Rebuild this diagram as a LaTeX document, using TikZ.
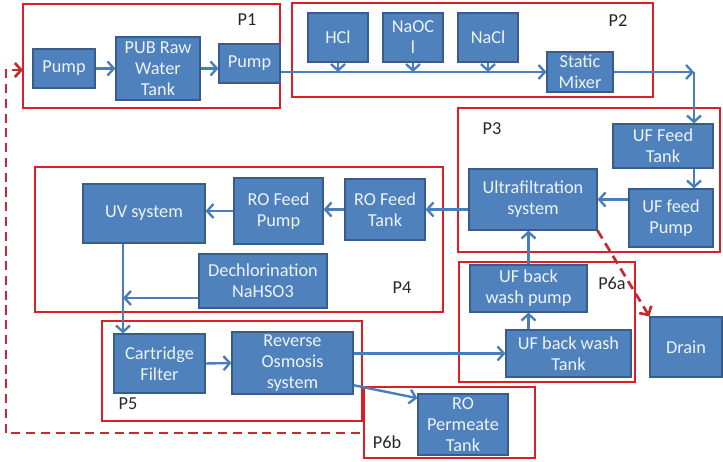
\documentclass[tikz,border=0pt]{standalone}
\usepackage{fontspec}
\setmainfont{Carlito}
\usetikzlibrary{positioning,arrows.meta,calc}
\definecolor{boxblue}{RGB}{79,129,189}
\definecolor{boxedge}{RGB}{56,93,138}
\definecolor{flowblue}{RGB}{74,126,187}
\definecolor{framered}{RGB}{222,30,38}
\definecolor{backred}{RGB}{200,40,50}

\begin{document}
\begin{tikzpicture}[
    x=0.25mm, y=-0.25mm,
    font=\fontsize{13}{15}\selectfont,
    unit/.style={
      draw=boxedge, fill=boxblue, line width=0.8pt,
      text=white!90!boxblue, align=center, inner sep=1pt
    },
    sz/.style 2 args={minimum width=#1*0.25mm, minimum height=#2*0.25mm},
    frame/.style={draw=framered, line width=2.1pt},
    plabel/.style={text=black!85},
    flow/.style={-{Straight Barb[length=4.5pt,width=10pt]}, draw=flowblue, line width=1.7pt},
    backflow/.style={-{Straight Barb[length=4.5pt,width=10pt]}, draw=backred,
      line width=1.9pt, dash pattern=on 6.5pt off 4pt},
  ]
    \useasboundingbox (0,0) rectangle (723,462);

    %── process frames ──────────────────────────────────────────────────
    \draw[frame] (23,4)    rectangle (280,108);
    \draw[frame] (292,3)   rectangle (653,97);
    \draw[frame] (458,108) rectangle (720,252);
    \draw[frame] (35,167)  rectangle (443,312);
    \draw[frame] (102,321) rectangle (362,421);
    \draw[frame] (459,262) rectangle (635,382);
    \draw[frame] (364,387) rectangle (535,458);

    \node[plabel] (lp1)  at (247,20)  {P1};
    \node[plabel] (lp2)  at (618,21)  {P2};
    \node[plabel] (lp3)  at (492,129) {P3};
    \node[plabel] (lp4)  at (402,288) {P4};
    \node[plabel] (lp5)  at (128,404) {P5};
    \node[plabel] (lp6a) at (612,283) {P6a};
    \node[plabel] (lp6b) at (387,442) {P6b};

    %── P1: intake ──────────────────────────────────────────────────────
    \node[unit, sz={62}{39}] (pump1)   at (64,68.5)    {Pump};
    \node[unit, sz={84}{63}] (rawtank) at (158,68.5)   {PUB Raw\\Water\\Tank};
    \node[unit, sz={61}{39}] (pump2)   at (249.5,63.5) {Pump};

    %── P2: dosing ──────────────────────────────────────────────────────
    \node[unit, sz={60}{49}] (hcl)   at (338,37.5) {HCl};
    \node[unit, sz={60}{49}] (naocl) at (413,37.5) {NaOC\\l};
    \node[unit, sz={60}{49}] (nacl)  at (488,37.5) {NaCl};
    \node[unit, sz={66}{40}] (mixer) at (580,72)   {Static\\Mixer};
    \coordinate (turn) at (694,72);

    %── P3: ultrafiltration ─────────────────────────────────────────────
    \node[unit, sz={100}{44}] (ufft)  at (663,146)   {UF Feed\\Tank};
    \node[unit, sz={84}{58}]  (uffp)  at (671,218)   {UF feed\\Pump};
    \node[unit, sz={128}{61}] (ufsys) at (533,199.5) {Ultrafiltration\\system};

    %── P4: RO feed ─────────────────────────────────────────────────────
    \node[unit, sz={80}{61}]  (rotank)  at (385,209.5) {RO Feed\\Tank};
    \node[unit, sz={89}{66}]  (ropump)  at (278.5,211) {RO Feed\\Pump};
    \node[unit, sz={122}{59}] (uvsys)   at (144,213.5) {UV system};
    \node[unit, sz={128}{54}] (dechlor) at (263,281)   {Dechlorination\\NaHSO3};
    \coordinate (uvx)  at (123,0);
    \coordinate (dose) at (123,298);

    %── P5 / P6: reverse osmosis and backwash ───────────────────────────
    \node[unit, sz={91}{59}]  (cartridge) at (159.5,363.5) {Cartridge\\Filter};
    \node[unit, sz={121}{62}] (rosys)     at (292.5,363)   {Reverse\\Osmosis\\system};
    \node[unit, sz={90}{61}]  (permtank)  at (463,424.5)   {RO\\Permeate\\Tank};
    \node[unit, sz={117}{47}] (bwpump)    at (528.5,288.5) {UF back\\wash pump};
    \node[unit, sz={125}{47}] (bwtank)    at (568.5,353.5) {UF back wash\\Tank};
    \node[unit, sz={72}{60}]  (drain)     at (686,347)     {Drain};

    %── flows ───────────────────────────────────────────────────────────
    \draw[flow] (pump1.east) -- (rawtank.west);
    \draw[flow] (rawtank.east) -- (rawtank.east -| pump2.west);
    \draw[flow] (mixer.west -| pump2.east) -- (mixer.west);
    \draw[flow] (hcl.south) -- (hcl.south |- mixer.west);
    \draw[flow] (naocl.south) -- (naocl.south |- mixer.west);
    \draw[flow] (nacl.south) -- (nacl.south |- mixer.west);
    \draw[flow] (mixer.east) -- (turn);
    \draw[flow] (turn) -- (turn |- ufft.north);
    \draw[flow] (ufft.south -| turn) -- (uffp.north -| turn);
    \draw[flow] (uffp.west |- ufsys.east) -- (ufsys.east);
    \draw[flow] (rotank.east -| ufsys.west) -- (rotank.east);
    \draw[flow] (rotank.west) -- (rotank.west -| ropump.east);
    \draw[flow] (ropump.west) -- (ropump.west -| uvsys.east);
    \draw[flow] (uvsys.south -| uvx) -- (cartridge.north -| uvx);
    \draw[flow] (dechlor.west |- dose) -- (dose);
    \draw[flow] (cartridge.east) -- (rosys.west);
    \draw[flow] (rosys.east |- bwtank.west) -- (bwtank.west);
    \draw[flow] (rosys.-20) -- (permtank.150);
    \draw[flow] (bwpump.south |- bwtank.north) -- (bwpump.south);
    \draw[flow] (bwpump.north) -- (bwpump.north |- ufsys.south);

    %── drain and recycle (dashed) ──────────────────────────────────────
    \draw[backflow] (ufsys.south east) -- (drain.north west);
    \coordinate (fbstart) at (360,433);
    \coordinate (fbturn)  at (6,70);
    \coordinate (fbin)    at (23,70);
    \draw[backflow] (fbstart) -| (fbturn) -- (fbin);

  \end{tikzpicture}
\end{document}
